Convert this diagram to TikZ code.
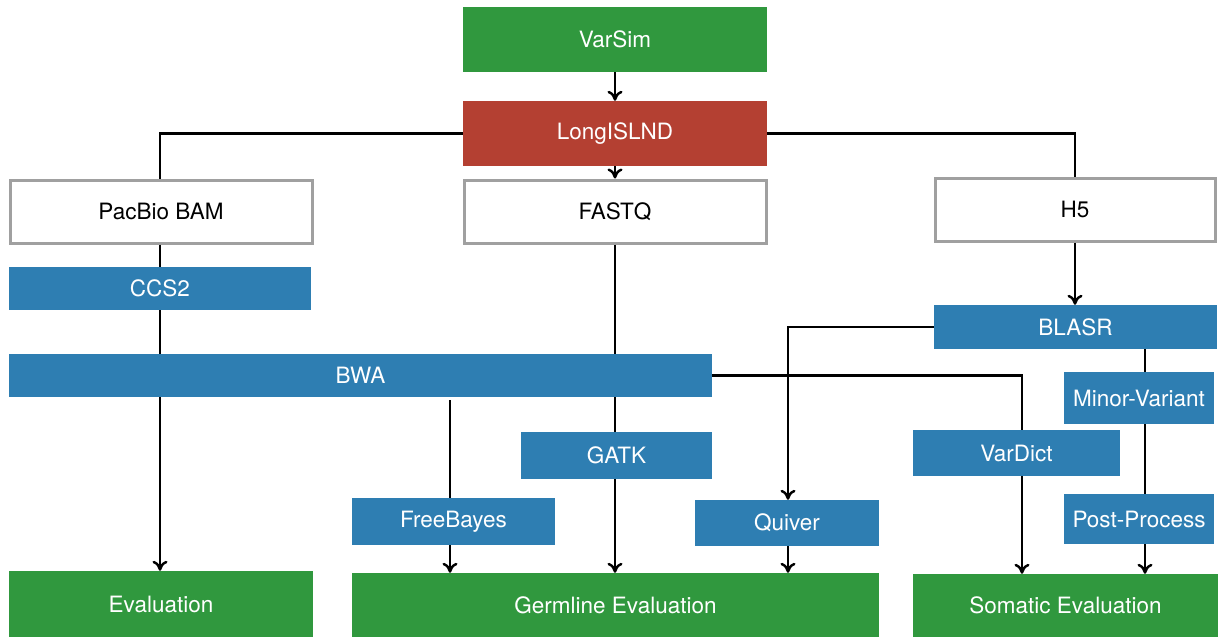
\documentclass[tikz,border=0pt]{standalone}
\usepackage{fontspec}
\setmainfont{TeX Gyre Heros}
\usetikzlibrary{arrows.meta,calc}
\definecolor{cgreen}{RGB}{48,152,62}
\definecolor{cred}{RGB}{180,64,50}
\definecolor{cblue}{RGB}{46,126,178}
\definecolor{cgray}{RGB}{160,160,160}
\tikzset{
  box/.style={rectangle, inner sep=0pt, font=\fontsize{22.5}{26}\selectfont, text=white},
  gbox/.style={box, fill=cgreen},
  rbox/.style={box, fill=cred},
  bbox/.style={box, fill=cblue},
  wbox/.style={box, fill=white, draw=cgray, line width=3pt, text=black},
  conn/.style={line width=2.8pt, draw=black},
  arr/.style={conn, -{To[length=10pt,width=15pt,line width=2.4pt]}},
}
\newcommand{\bx}[7]{% style, name, x1, y1, x2, y2, text
  \node[#1, minimum width={#5-#3}, minimum height={#6-#4}] (#2) at ({(#3+#5)/2},{(#4+#6)/2}) {#7};}
\begin{document}
\begin{tikzpicture}[x=1pt,y=-1pt]
\useasboundingbox (0,0) rectangle (1219,637);
\bx{gbox}{varsim}{463}{7}{767}{72}{VarSim}
\bx{rbox}{long}{463}{101}{767}{166}{LongISLND}
\bx{wbox}{pac}{10}{180}{312}{243}{PacBio BAM}
\bx{wbox}{fastq}{464}{180}{766}{243}{FASTQ}
\bx{wbox}{h5}{935}{178}{1215}{241}{H5}
\bx{bbox}{ccs}{9}{267}{311}{310}{CCS2}
\bx{bbox}{blasr}{934}{305}{1217}{349}{BLASR}
\bx{bbox}{bwa}{9}{354}{712}{397}{BWA}
\bx{bbox}{minor}{1064}{372}{1214}{424}{Minor-Variant}
\bx{bbox}{gatk}{521}{432}{712}{479}{GATK}
\bx{bbox}{vardict}{913}{430}{1120}{476}{VarDict}
\bx{bbox}{free}{352}{498}{555}{545}{FreeBayes}
\bx{bbox}{quiver}{695}{500}{879}{546}{Quiver}
\bx{bbox}{post}{1064}{494}{1214}{544}{Post-Process}
\bx{gbox}{eval}{9}{571}{313}{637}{Evaluation}
\bx{gbox}{germ}{352}{573}{879}{637}{Germline Evaluation}
\bx{gbox}{som}{913}{574}{1218}{637}{Somatic Evaluation}
\coordinate (cpac) at (160,0);
\coordinate (cfree) at (450,0);
\coordinate (cfq) at (615,0);
\coordinate (cq) at (788,0);
\coordinate (cvd) at (1022,0);
\coordinate (ch5) at (1075,0);
\coordinate (cmv) at (1145,0);
% connectors
\draw[arr] (varsim.south) -- (long.north);
\draw[arr] (long.south) -- (fastq.north);
\draw[conn] (long.west) -| (cpac |- pac.north);
\draw[conn] (long.east) -| (ch5 |- h5.north);
\draw[conn] (cpac |- pac.south) -- (cpac |- ccs.north);
\draw[conn] (cpac |- ccs.south) -- (cpac |- bwa.north);
\draw[arr] (cpac |- bwa.south) -- (cpac |- eval.north);
\draw[conn] (cfq |- fastq.south) -- (cfq |- bwa.north);
\draw[conn] (cfq |- bwa.south) -- (cfq |- gatk.north);
\draw[arr] (cfq |- gatk.south) -- (cfq |- germ.north);
\draw[conn] ($(cfree |- bwa.south)+(0,3)$) -- (cfree |- free.north);
\draw[arr] (cfree |- free.south) -- (cfree |- germ.north);
\draw[arr] (ch5 |- h5.south) -- (ch5 |- blasr.north);
\draw[arr] (blasr.west) -| (cq |- quiver.north);
\draw[arr] (cq |- quiver.south) -- (cq |- germ.north);
\draw[conn] (bwa.east) -| (cvd |- vardict.north);
\draw[arr] (cvd |- vardict.south) -- (cvd |- som.north);
\draw[conn] (cmv |- blasr.south) -- (cmv |- minor.north);
\draw[conn] (cmv |- minor.south) -- (cmv |- post.north);
\draw[arr] (cmv |- post.south) -- (cmv |- som.north);
\end{tikzpicture}
\end{document}
